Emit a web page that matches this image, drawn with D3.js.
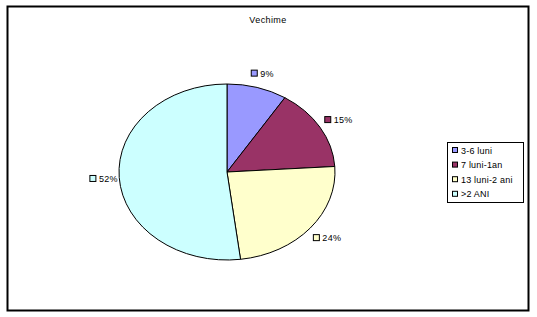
<!DOCTYPE html>
<html>
<head>
<meta charset="utf-8">
<script src="https://cdn.jsdelivr.net/npm/d3@7"></script>
<style>
  body { margin: 0; background: #fff; }
  svg text { font-family: "Liberation Sans", Arial, sans-serif; font-size: 9px; fill: #000; }
</style>
</head>
<body>
<div id="chart"></div>
<script>
// data for the pie
var categories = ["3-6 luni", "7 luni-1an", "13 luni-2 ani", ">2 ANI"];
var values = [9, 15, 24, 52];
var colors = ["#9999FF", "#993366", "#FFFFCC", "#CCFFFF"];
var title = "Vechime";

var width = 537, height = 317;

// pie is an ellipse: radius in x, squashed in y
var center = { "x": 227, "y": 172 };
var rx = 108, ry = 88;

var svg = d3.select("#chart")
  .append("svg")
  .attr("width", width)
  .attr("height", height);

// outer frame
svg.append("rect")
  .attr("x", 7.5).attr("y", 6.5)
  .attr("width", 521).attr("height", 304)
  .attr("fill", "#fff")
  .attr("stroke", "#000")
  .attr("stroke-width", 2);

svg.append("text")
  .attr("x", 268).attr("y", 23)
  .attr("text-anchor", "middle")
  .style("letter-spacing", "0.4px")
  .text(title);

var pie = d3.pie().sort(null).value(function(d) { return d; });
var arcs = pie(values);

var arc = d3.arc().innerRadius(0).outerRadius(rx);

var g = svg.append("g")
  .attr("transform", "translate(" + center.x + "," + center.y + ") scale(1," + (ry / rx) + ")");

g.selectAll("path")
  .data(arcs)
  .enter().append("path")
  .attr("d", arc)
  .attr("fill", function(d, i) { return colors[i]; })
  .attr("stroke", "#000")
  .attr("stroke-width", 1)
  .attr("vector-effect", "non-scaling-stroke");

// percentage labels outside the slices
var total = d3.sum(values);
var labels = svg.selectAll(".lbl")
  .data(arcs)
  .enter().append("g")
  .attr("class", "lbl")
  .attr("transform", function(d) {
    var a = (d.startAngle + d.endAngle) / 2;
    var k = 1.17;
    var x = center.x + Math.sin(a) * rx * k;
    var y = center.y - Math.cos(a) * ry * k;
    return "translate(" + x + "," + y + ")";
  });

labels.append("rect")
  .attr("x", -11).attr("y", -3)
  .attr("width", 6).attr("height", 6)
  .attr("fill", function(d, i) { return colors[i]; })
  .attr("stroke", "#000")
  .attr("stroke-width", 1);

labels.append("text")
  .attr("x", -2).attr("y", 3.5)
  .style("letter-spacing", "0.3px")
  .text(function(d) { return Math.round(d.value / total * 100) + "%"; });

// legend
var legend = svg.append("g").attr("transform", "translate(447,142)");
legend.append("rect")
  .attr("x", 0.5).attr("y", 0.5)
  .attr("width", 76).attr("height", 60)
  .attr("fill", "#fff")
  .attr("stroke", "#000")
  .attr("stroke-width", 1);

var items = legend.selectAll(".item")
  .data(categories)
  .enter().append("g")
  .attr("class", "item")
  .attr("transform", function(d, i) { return "translate(5," + (8 + i * 14.6) + ")"; });

items.append("rect")
  .attr("x", 0.5).attr("y", -2.5)
  .attr("width", 5).attr("height", 5)
  .attr("fill", function(d, i) { return colors[i]; })
  .attr("stroke", "#000")
  .attr("stroke-width", 1);

items.append("text")
  .attr("x", 9).attr("y", 3.5)
  .style("letter-spacing", "0.2px")
  .text(function(d) { return d; });
</script>
</body>
</html>
